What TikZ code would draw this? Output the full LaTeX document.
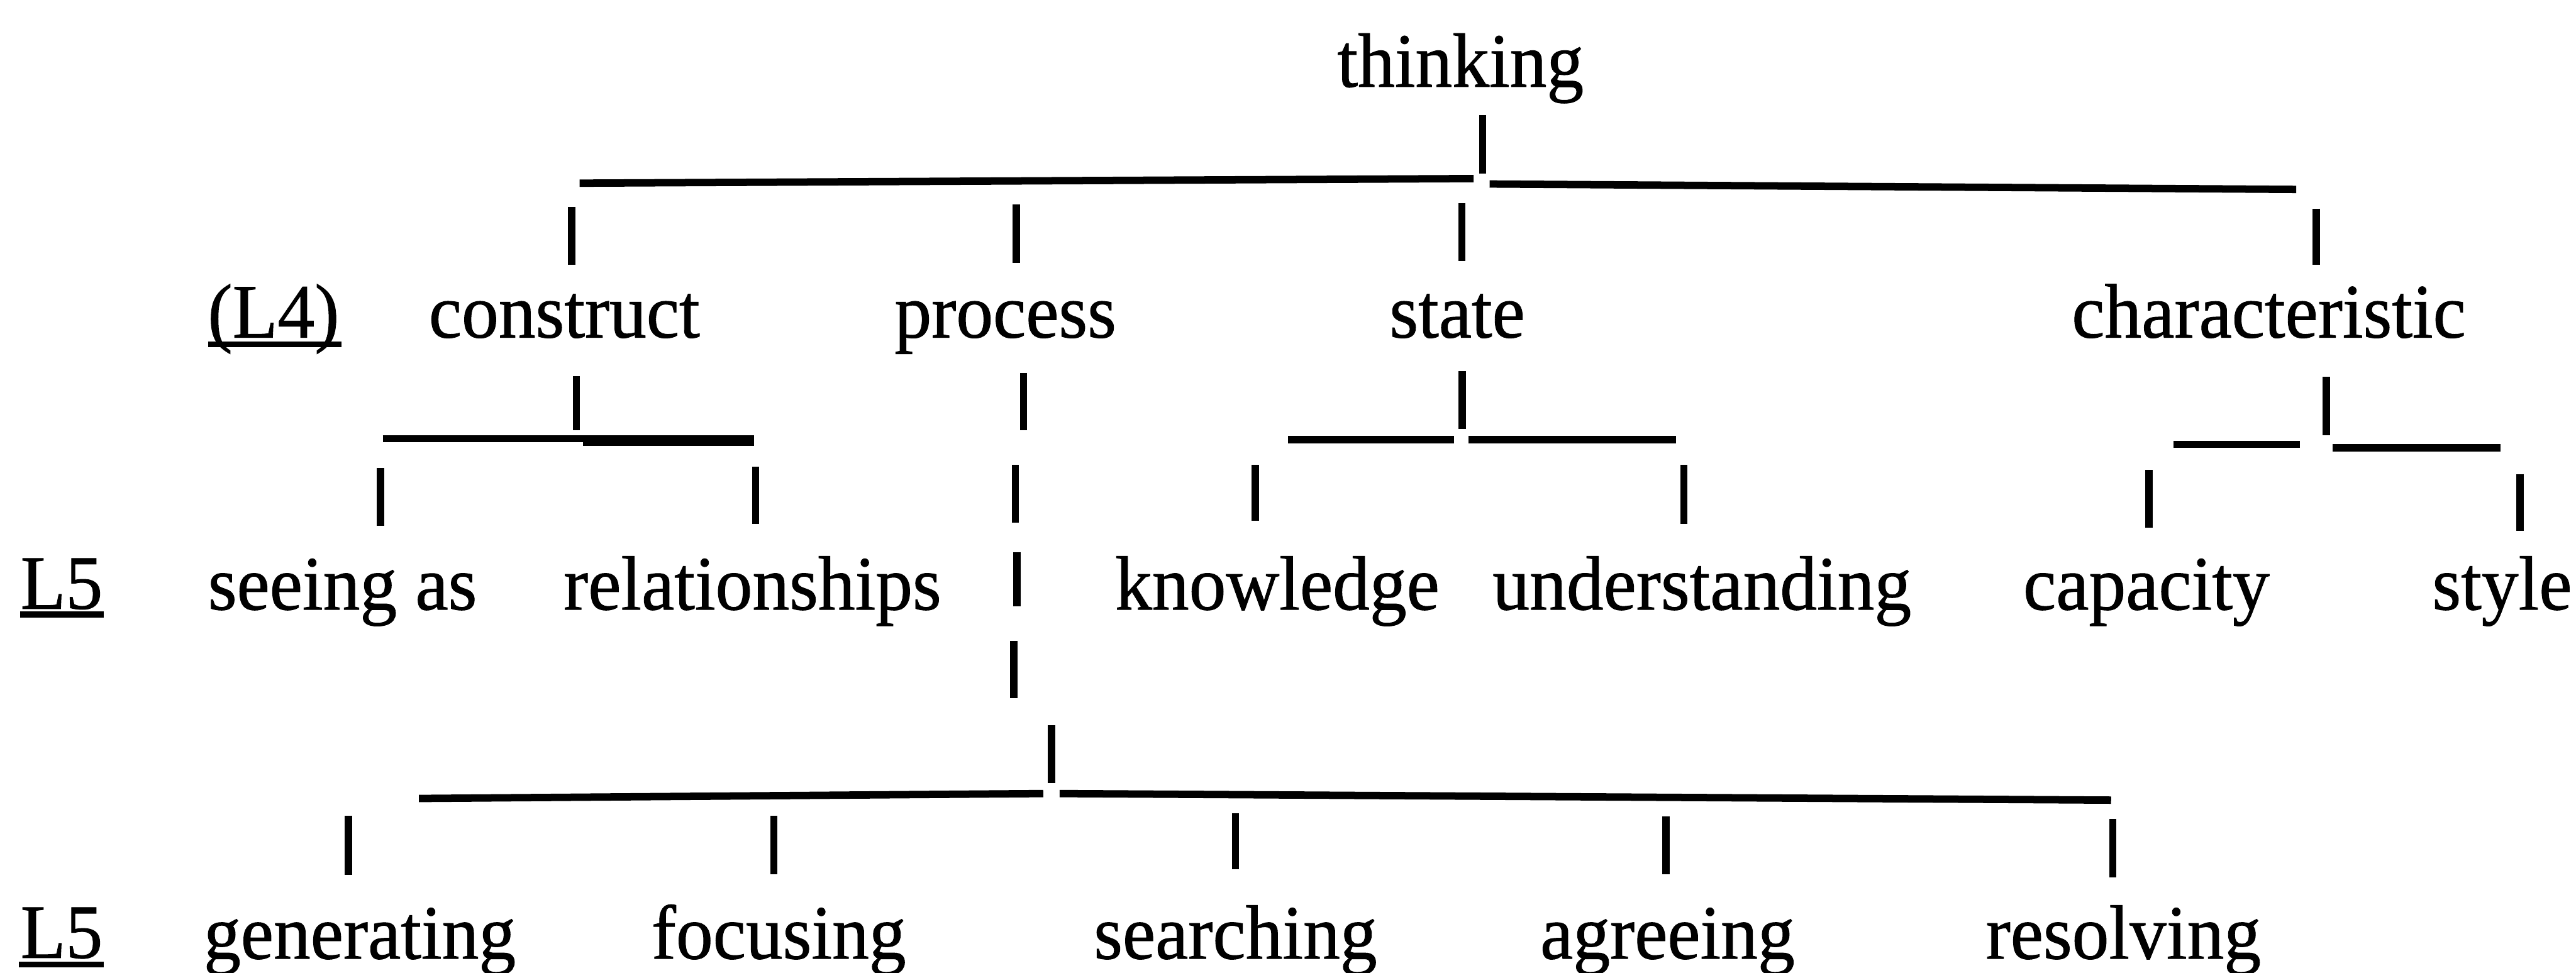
\documentclass[tikz,border=0pt]{standalone}
\usepackage{fontspec}
\setmainfont{Liberation Serif}[FakeBold=0.8]
\newcommand{\tx}[1]{\scalebox{1}[1.04]{#1}}
% vertical tick between two named end points
\newcommand{\vtick}[4]{\coordinate (#1a) at (#2,#3); \coordinate (#1b) at (#2,#4); \draw[vbar] (#1a) -- (#1b);}
% horizontal bar between two named end points
\newcommand{\hseg}[6][hbar]{\coordinate (#2a) at (#3,#4); \coordinate (#2b) at (#5,#6); \draw[#1] (#2a) -- (#2b);}
\tikzset{
  lbl/.style={anchor=base, inner sep=0pt, font=\fontsize{12.8}{15}\selectfont},
  vbar/.style={line width=0.44mm},
  hbar/.style={line width=0.45mm},
  hbarheavy/.style={line width=0.62mm},
  uline/.style={line width=0.36mm}
}
\begin{document}
\begin{tikzpicture}[x=0.1mm, y=-0.1mm]
\useasboundingbox (0,0) rectangle (1568,592);

% ---- labels ----
\node[lbl] (thinking) at (889,52.8) {\tx{thinking}};

\node[lbl] (l4) at (166.5,205.4) {\tx{(L4)}};
\node[lbl] (construct) at (343.5,205.4) {\tx{construct}};
\node[lbl] (process) at (612,205.4) {\tx{process}};
\node[lbl] (state) at (887,205.4) {\tx{state}};
\node[lbl] (characteristic) at (1381,205.4) {\tx{characteristic}};

\node[lbl] (l5a) at (37.5,370.5) {\tx{L5}};
\node[lbl] (seeingas) at (208.5,371) {\tx{seeing as}};
\node[lbl] (relationships) at (458,371) {\tx{relationships}};
\node[lbl] (knowledge) at (777.5,371) {\tx{knowledge}};
\node[lbl] (understanding) at (1036,371) {\tx{understanding}};
\node[lbl] (capacity) at (1306.5,371) {\tx{capacity}};
\node[lbl] (style) at (1523,371) {\tx{style}};

\node[lbl] (l5b) at (37.5,583) {\tx{L5}};
\node[lbl] (generating) at (219,583.5) {\tx{generating}};
\node[lbl] (focusing) at (474,583.5) {\tx{focusing}};
\node[lbl] (searching) at (752,583.5) {\tx{searching}};
\node[lbl] (agreeing) at (1015,583.5) {\tx{agreeing}};
\node[lbl] (resolving) at (1292.5,583.5) {\tx{resolving}};

% ---- underlines of the level marks ----
\coordinate (l4ul) at (126.6,209.6); \coordinate (l4ur) at (207.7,209.6);
\draw[uline] (l4ul) -- (l4ur);
\coordinate (l5aul) at (12.4,374); \coordinate (l5aur) at (63,374);
\draw[uline] (l5aul) -- (l5aur);
\coordinate (l5bul) at (11.5,587); \coordinate (l5bur) at (63,587);
\draw[uline] (l5bul) -- (l5bur);

% ---- thinking ----
\vtick{tk}{902.5}{70}{105.5}
\hseg{tkl}{352.8}{111.5}{897}{108.7}
\hseg{tkr}{906.7}{112}{1397.7}{115.3}
\vtick{tcon}{348}{126}{161}
\vtick{tpro}{618.6}{124.6}{160}
\vtick{tsta}{889.9}{123.6}{158.8}
\vtick{tcha}{1409.8}{127}{161}

% ---- construct ----
\vtick{con}{350.8}{229}{262}
\hseg{conl}{233}{267}{355}{267}
\hseg[hbarheavy]{conr}{355}{268.2}{459}{268.2}
\vtick{see}{231.6}{285}{320}
\vtick{rel}{460}{284}{319}

% ---- process ----
\vtick{proa}{623}{227}{262}
\vtick{prob}{618}{283}{318}
\vtick{proc}{619}{336}{369}
\vtick{prod}{617}{390}{425}
\vtick{proe}{640}{441.5}{476.7}
\hseg{prol}{255}{486}{635}{483}
\hseg{pror}{645}{483}{1285}{487}
\vtick{gen}{212}{496.4}{532.6}
\vtick{foc}{471}{496.4}{532}
\vtick{sea}{752}{495}{529}
\vtick{agr}{1014}{497}{532}
\vtick{res}{1286}{498.6}{534}

% ---- state ----
\vtick{sta}{890}{226}{261}
\hseg{stal}{784}{267.5}{885}{267.5}
\hseg{star}{894}{267.5}{1020}{267.5}
\vtick{kno}{764}{283}{317}
\vtick{und}{1025}{283}{319}

% ---- characteristic ----
\vtick{cha}{1416}{229.5}{265}
\hseg{chal}{1323}{270.5}{1400}{270.5}
\hseg{char}{1420}{272.7}{1522}{272.7}
\vtick{cap}{1308}{286}{321}
\vtick{sty}{1534}{288.5}{323}
\end{tikzpicture}
\end{document}
